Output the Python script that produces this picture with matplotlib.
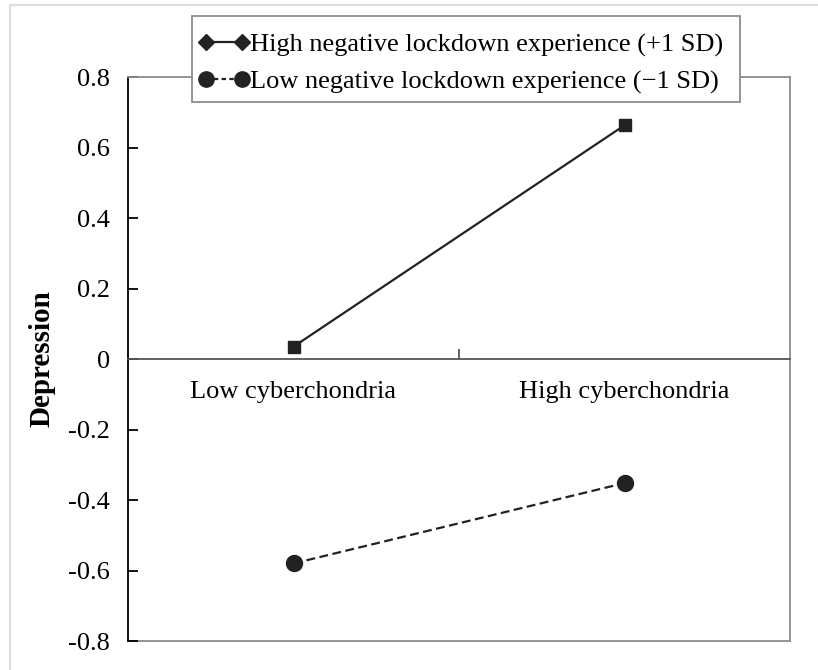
import matplotlib
matplotlib.use("Agg")
import matplotlib.pyplot as plt
from matplotlib.lines import Line2D
from matplotlib.patches import Rectangle

# data
categories = ["Low cyberchondria", "High cyberchondria"]
x_pos = [0.5, 1.5]
high_exp = [0.035, 0.663]    # +1 SD
low_exp = [-0.58, -0.352]    # -1 SD
series_labels = ["High negative lockdown experience (+1 SD)",
                 "Low negative lockdown experience (\u22121 SD)"]
y_ticks = [-0.8, -0.6, -0.4, -0.2, 0, 0.2, 0.4, 0.6, 0.8]
y_tick_labels = ["-0.8", "-0.6", "-0.4", "-0.2", "0", "0.2", "0.4", "0.6", "0.8"]

plt.rcParams['font.family'] = ['Liberation Serif', 'DejaVu Serif']
plt.rcParams['font.size'] = 19

W, H = 818, 670
fig = plt.figure(figsize=(W / 100, H / 100), dpi=100)
ax = fig.add_axes([128 / W, 1 - 641 / H, (790 - 128) / W, (641 - 77) / H])

ink = "#222222"
frame_gray = "#8c8c8c"

ax.plot(x_pos, high_exp, color=ink, lw=1.6, marker='s', ms=9, zorder=3)
ax.plot(x_pos, low_exp, color=ink, lw=1.6, ls=(0, (4, 2)), marker='o', ms=11.5, zorder=3)

ax.set_xlim(0, 2)
ax.set_ylim(-0.8, 0.8)

# y axis: black, ticks inward
ax.spines['left'].set_color('black')
ax.spines['left'].set_linewidth(1.3)
for s in ['top', 'right']:
    ax.spines[s].set_color(frame_gray)
    ax.spines[s].set_linewidth(1.3)
ax.set_yticks(y_ticks)
ax.set_yticklabels(y_tick_labels)
ax.tick_params(axis='y', direction='in', length=7, width=1.3, pad=13, colors='black')

# x axis sits on zero, category labels between ticks
ax.spines['bottom'].set_position(('data', 0))
ax.spines['bottom'].set_color('#555555')
ax.spines['bottom'].set_linewidth(1.3)
ax.set_xticks([1])
ax.set_xticklabels([""])
ax.set_xticks(x_pos, minor=True)
ax.set_xticklabels(categories, minor=True)
ax.tick_params(axis='x', which='major', direction='in', length=7, width=1.3, colors='#555555')
ax.tick_params(axis='x', which='minor', length=0, pad=16, labelcolor='black')
# plot-area bottom border
ax.axhline(-0.8, color=frame_gray, lw=1.3, clip_on=False, zorder=1)

ax.set_ylabel("Depression", fontsize=21, fontweight='bold')
ax.yaxis.set_label_coords(-(128 - 55) / 662, 0.5)

# legend box drawn by hand so the padding can differ per side
fig.add_artist(Rectangle((192 / W, 1 - 102 / H), (740 - 192) / W, 86 / H,
                         transform=fig.transFigure, facecolor='white',
                         edgecolor=frame_gray, lw=1.3, zorder=5))
handles = [
    Line2D([], [], color=ink, lw=1.6, marker='D', ms=8),
    Line2D([], [], color=ink, lw=1.6, ls=(0, (2, 1.5)), marker='o', ms=11),
]
leg = fig.legend(handles, series_labels, loc='upper left',
                 bbox_to_anchor=(198 / W, 1 - 33 / H), numpoints=2,
                 handlelength=1.97, handletextpad=0.0,
                 labelspacing=0.5, borderpad=0, borderaxespad=0,
                 frameon=False, fontsize=19)
leg.set_zorder(6)

# faint outer border of the picture
fig.add_artist(Rectangle((10 / W, -0.05), 1.1, 1 - 5 / H + 0.05,
                         transform=fig.transFigure, fill=False,
                         edgecolor='#dddddd', lw=1.5))

fig.savefig("out.png", dpi=100)
